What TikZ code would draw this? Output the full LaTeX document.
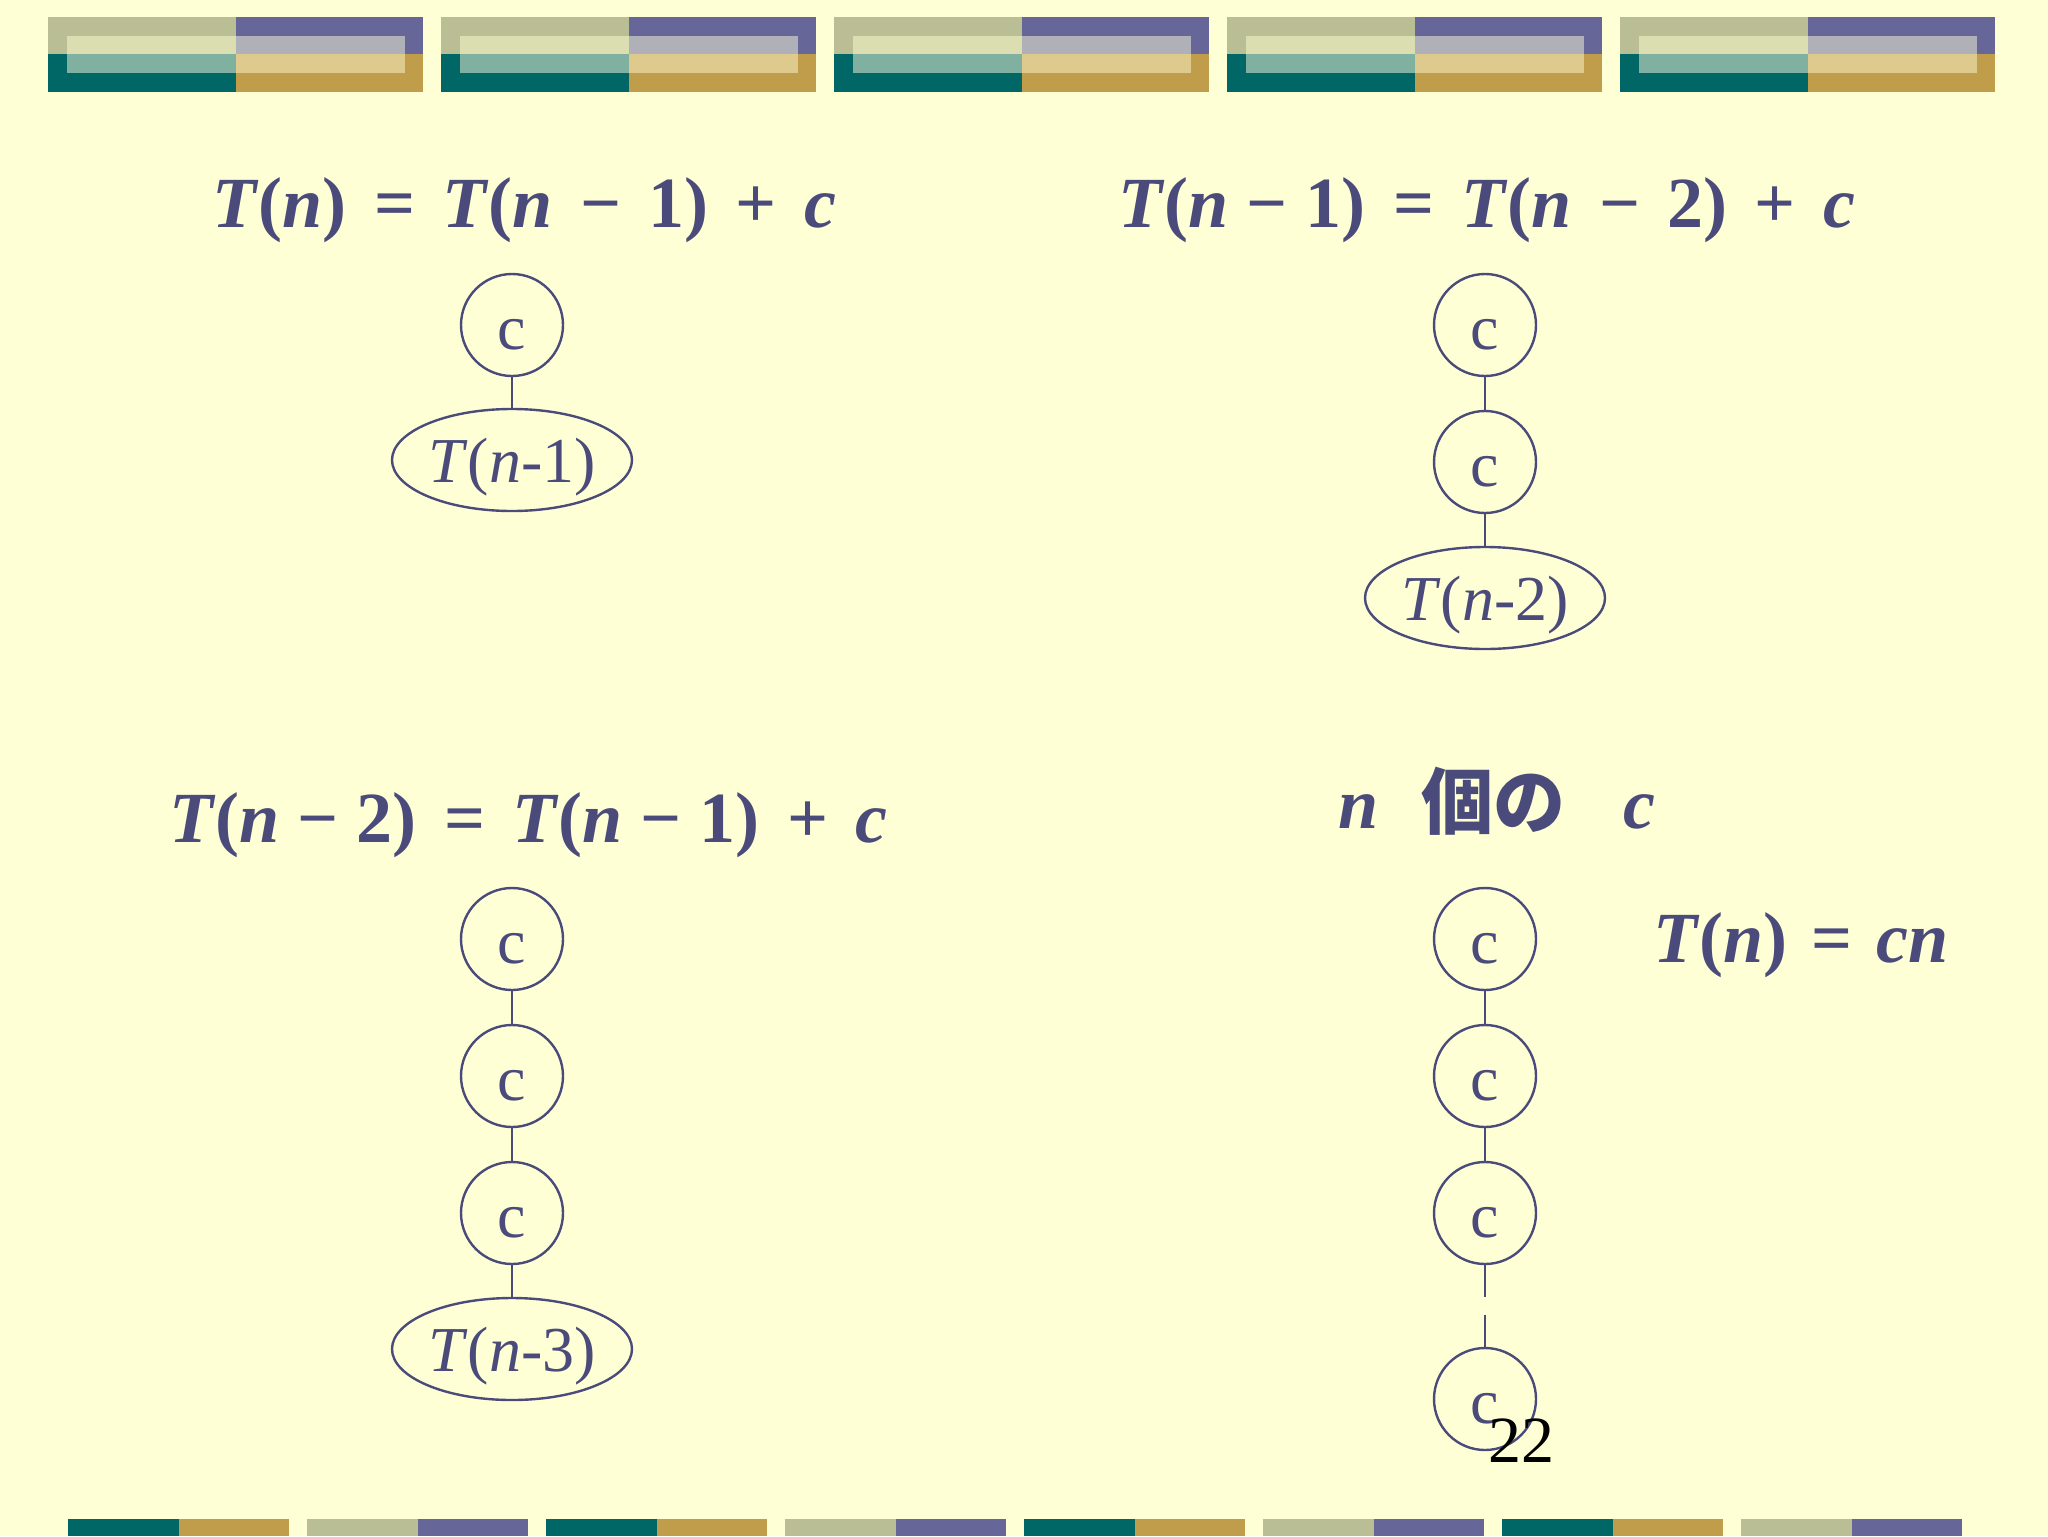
\documentclass[tikz,border=0pt]{standalone}
\usepackage{fontspec}
\setmainfont{Liberation Serif}
\newfontfamily\jpfont{Noto Sans CJK JP}
\usepackage{tikz}
\usetikzlibrary{positioning,shapes.geometric}
\definecolor{slidebg}{HTML}{FFFFD6}
\definecolor{inkblue}{HTML}{4B4B7B}
\definecolor{bartan}{HTML}{B9BE94}
\definecolor{barpurple}{HTML}{676699}
\definecolor{barteal}{HTML}{006666}
\definecolor{bargold}{HTML}{C09D4B}
\definecolor{innertan}{HTML}{DBDEB1}
\definecolor{innergrey}{HTML}{B0B0B9}
\definecolor{innerteal}{HTML}{80B1A0}
\definecolor{innergold}{HTML}{DFCA8D}
\newcommand{\eqv}[1]{\textit{#1}}% variable in the equations
\newcommand{\eqsp}{\hspace{0.38em}}
\newcommand{\eqmn}{\hspace{0.25em}−\hspace{0.25em}}% narrow minus
\tikzstyle{cnode} = [
    circle,
    draw=inkblue,
    line width=1.2pt,
    minimum size=51pt,
    inner sep=0pt,
    text=inkblue,
    text height=24.7pt,
    text depth=0pt,
    font=\fontsize{32}{36}\selectfont
    ]
\tikzstyle{tnode} = [
    ellipse,
    draw=inkblue,
    line width=1.2pt,
    minimum width=120pt,
    minimum height=51pt,
    inner sep=0pt,
    text=inkblue,
    text depth=0pt,
    font=\fontsize{32}{36}\selectfont
    ]
\tikzstyle{eqn} = [
    text=inkblue,
    font=\fontsize{36}{40}\selectfont\bfseries,
    inner sep=0pt,
    anchor=base west
    ]
\tikzstyle{link} = [draw=inkblue, line width=1.2pt]
\tikzstyle{pagenum} = [
    text=black,
    font=\fontsize{33}{36}\selectfont,
    inner sep=0pt,
    anchor=base
    ]

\begin{document}
\begin{tikzpicture}[x=0.5pt, y=-0.5pt]
\fill[slidebg] (0,0) rectangle (2048,1536);
\useasboundingbox (0,0) rectangle (2048,1536);
% top bar
\foreach \i in {0,...,4}{
    \pgfmathsetmacro\bx{48+393*\i}
    \fill[bartan] (\bx,17) rectangle (\bx+188,54);
    \fill[barpurple] (\bx+188,17) rectangle (\bx+375,54);
    \fill[barteal] (\bx,54) rectangle (\bx+188,92);
    \fill[bargold] (\bx+188,54) rectangle (\bx+375,92);
    \fill[innertan] (\bx+19,36) rectangle (\bx+188,54);
    \fill[innergrey] (\bx+188,36) rectangle (\bx+357,54);
    \fill[innerteal] (\bx+19,54) rectangle (\bx+188,73);
    \fill[innergold] (\bx+188,54) rectangle (\bx+357,73);
}
% bottom bar
\foreach \i/\ca/\cb in {0/barteal/bargold, 1/bartan/barpurple, 2/barteal/bargold, 3/bartan/barpurple,
                        4/barteal/bargold, 5/bartan/barpurple, 6/barteal/bargold, 7/bartan/barpurple}{
    \pgfmathsetmacro\bx{68+239*\i}
    \fill[\ca] (\bx,1519) rectangle (\bx+110.5,1536);
    \fill[\cb] (\bx+110.5,1519) rectangle (\bx+221,1536);
}

% equations
\node[eqn] (eqa) at (212,227) {\eqv{T}(\eqv{n})\eqsp=\eqsp\eqv{T}(\eqv{n}\eqsp−\eqsp1)\eqsp+\eqsp\eqv{c}};
\node[eqn] (eqb) at (1118,227) {\eqv{T}(\eqv{n}\eqmn1)\eqsp=\eqsp\eqv{T}(\eqv{n}\eqsp−\eqsp2)\eqsp+\eqsp\eqv{c}};
\node[eqn] (eqc) at (169,842) {\eqv{T}(\eqv{n}\eqmn2)\eqsp=\eqsp\eqv{T}(\eqv{n}\eqmn1)\eqsp+\eqsp\eqv{c}};
\node[eqn] (eqd) at (1338,828) {\eqv{n}\hspace{0.6em}{\jpfont 個の}\hspace{0.8em}\eqv{c}};
\node[eqn] (eqe) at (1653,962) {\eqv{T}(\eqv{n})\hspace{0.33em}=\hspace{0.33em}\eqv{cn}};

% T(n-1)
\node[cnode] (a1) at (512,325) {c};
\node[tnode, below=15.3pt of a1] (a2) {\textit{T}(\textit{n}-1)};
\draw[link] (a1) -- (a2);

% T(n-2)
\node[cnode] (b1) at (1485,325) {c};
\node[cnode, below=16.3pt of b1] (b2) {c};
\node[tnode, below=15.8pt of b2] (b3) {\textit{T}(\textit{n}-2)};
\draw[link] (b1) -- (b2);
\draw[link] (b2) -- (b3);

% T(n-3)
\node[cnode] (c1) at (512,939) {c};
\node[cnode, below=16.3pt of c1] (c2) {c};
\node[cnode, below=16.3pt of c2] (c3) {c};
\node[tnode, below=15.8pt of c3] (c4) {\textit{T}(\textit{n}-3)};
\draw[link] (c1) -- (c2);
\draw[link] (c2) -- (c3);
\draw[link] (c3) -- (c4);

% n c's
\node[cnode] (d1) at (1485,939) {c};
\node[cnode, below=16.3pt of d1] (d2) {c};
\node[cnode, below=16.3pt of d2] (d3) {c};
\node[cnode, below=40.8pt of d3] (d4) {c};
\draw[link] (d1) -- (d2);
\draw[link] (d2) -- (d3);
\draw[link, dash pattern=on 16pt off 9pt] (d3) -- (d4);

\node[pagenum] (pnum) at (1521,1462) {22};
\end{tikzpicture}
\end{document}
